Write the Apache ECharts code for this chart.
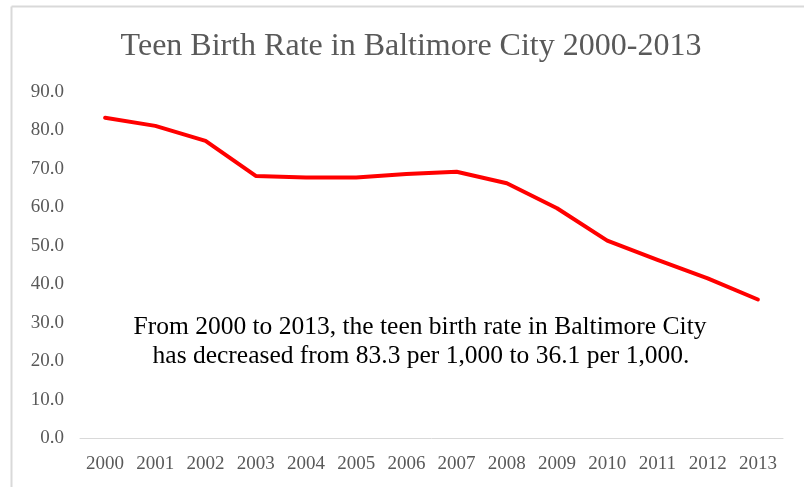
<!DOCTYPE html>
<html><head><meta charset="utf-8">
<script src="https://cdn.jsdelivr.net/npm/echarts@6/dist/echarts.min.js"></script>
<style>html,body{margin:0;padding:0;background:#fff}#c{width:804px;height:487px}</style>
</head><body><div id="c"></div>
<script>
var years = ['2000','2001','2002','2003','2004','2005','2006','2007','2008','2009','2010','2011','2012','2013'];
var birthRate = [83.3, 81.2, 77.3, 68.2, 67.8, 67.8, 68.7, 69.3, 66.3, 59.8, 51.4, 46.4, 41.6, 36.1];
var yTicks = {min: 0, max: 90, interval: 10};
var titleText = 'Teen Birth Rate in Baltimore City 2000-2013';
var noteLines = ['From 2000 to 2013, the teen birth rate in Baltimore City',
                 'has decreased from 83.3 per 1,000 to 36.1 per 1,000.'];

var serif = '"Liberation Serif", "DejaVu Serif", serif';
var chart = echarts.init(document.getElementById('c'), null, {renderer: 'canvas'});
chart.setOption({
  animation: false,
  backgroundColor: '#fff',
  title: {
    text: titleText, left: 406, top: 26, textAlign: 'center',
    textStyle: {fontFamily: serif, fontSize: 32, fontWeight: 'normal', color: '#595959'}
  },
  grid: {left: 80, right: 21, top: 92, bottom: 48.5, containLabel: false},
  xAxis: {
    type: 'category', data: years, boundaryGap: true,
    axisLine: {show: true, lineStyle: {color: '#d9d9d9', width: 1}},
    axisTick: {show: false},
    axisLabel: {fontFamily: serif, fontSize: 19, color: '#595959', margin: 16, interval: 0}
  },
  yAxis: {
    type: 'value', min: yTicks.min, max: yTicks.max, interval: yTicks.interval,
    splitLine: {show: false}, axisLine: {show: false}, axisTick: {show: false},
    axisLabel: {fontFamily: serif, fontSize: 19, color: '#595959', margin: 16,
      formatter: function (v) { return v.toFixed(1); }}
  },
  series: [{
    type: 'line', data: birthRate, symbol: 'none', smooth: false,
    lineStyle: {color: '#ff0000', width: 4, cap: 'round', join: 'round'}
  }],
  graphic: [
    {type: 'line', shape: {x1: 11.5, y1: 6.5, x2: 804, y2: 6.5}, style: {stroke: '#d9d9d9', lineWidth: 2}},
    {type: 'line', shape: {x1: 11.5, y1: 6.5, x2: 11.5, y2: 487}, style: {stroke: '#d9d9d9', lineWidth: 2}},
    {type: 'text', position: [420, 327], style: {text: noteLines[0], textAlign: 'center', textVerticalAlign: 'middle',
      font: '25.5px ' + serif, fill: '#000'}},
    {type: 'text', position: [421, 356], style: {text: noteLines[1], textAlign: 'center', textVerticalAlign: 'middle',
      font: '25.5px ' + serif, fill: '#000'}}
  ]
});
</script></body></html>
